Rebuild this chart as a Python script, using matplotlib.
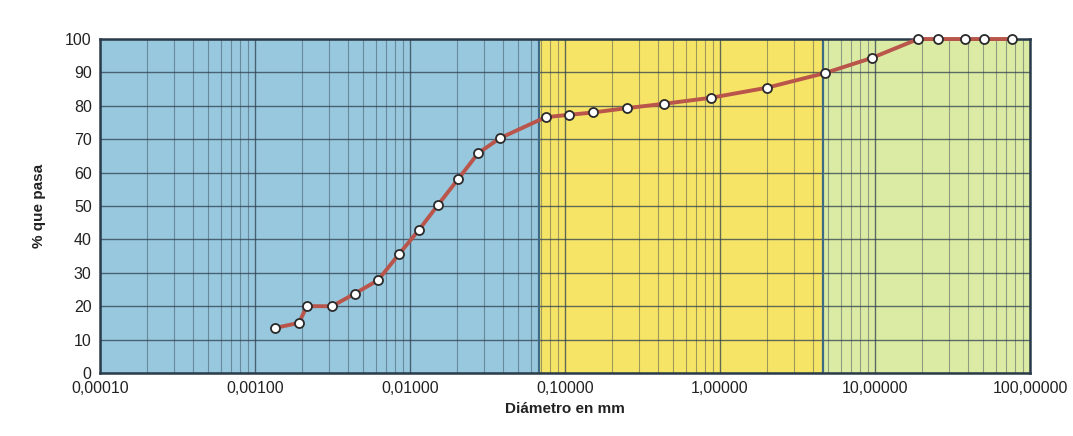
import matplotlib
matplotlib.use("Agg")
import matplotlib.pyplot as plt
from matplotlib.ticker import FixedLocator, LogLocator, NullFormatter, FuncFormatter
import numpy as np

# Data
diametro_mm = [0.00135, 0.00192, 0.00216, 0.00314, 0.00442, 0.00622, 0.0085, 0.0114,
               0.0152, 0.0204, 0.0275, 0.038, 0.075, 0.106, 0.152, 0.25, 0.435,
               0.875, 2.0, 4.75, 9.5, 19.0, 25.4, 38.1, 50.8, 76.2]
pct_pasa = [13.5, 15.0, 20.0, 20.0, 23.8, 27.8, 35.6, 42.8, 50.4, 58.0, 65.8, 70.3,
            76.6, 77.3, 78.0, 79.3, 80.6, 82.4, 85.4, 89.8, 94.3, 100.0, 100.0,
            100.0, 100.0, 100.0]
x_ticks = [0.0001, 0.001, 0.01, 0.1, 1.0, 10.0, 100.0]
x_tick_labels = ["0,00010", "0,00100", "0,01000", "0,10000", "1,00000", "10,00000", "100,00000"]
y_ticks = [0, 10, 20, 30, 40, 50, 60, 70, 80, 90, 100]
zone_limits = [0.0001, 0.068, 4.6, 100.0]
zone_colors = ["#98c8de", "#f6e466", "#dcebA4"]

plt.rcParams['font.family'] = ['Liberation Sans', 'DejaVu Sans']

fig = plt.figure(figsize=(10.73, 4.36), dpi=100)
ax = fig.add_axes([100/1073, 1-373/436, 930/1073, 334/436])

for i in range(3):
    ax.axvspan(zone_limits[i], zone_limits[i+1], color=zone_colors[i], zorder=0, lw=0)
for b in zone_limits[1:3]:
    ax.axvline(b, color="#3f6a86", lw=1.6, zorder=1)

ax.set_xscale('log')
ax.set_xlim(0.0001, 100.0)
ax.set_ylim(0, 100)

ax.xaxis.set_major_locator(FixedLocator(x_ticks))
ax.xaxis.set_major_formatter(FuncFormatter(lambda v, p: x_tick_labels[x_ticks.index(v)] if v in x_ticks else ""))
ax.xaxis.set_minor_locator(LogLocator(base=10, subs=np.arange(2, 10), numticks=100))
ax.xaxis.set_minor_formatter(NullFormatter())
ax.set_yticks(y_ticks)

ax.grid(True, which='major', axis='both', color='#2f3f4f', lw=1.0, alpha=0.75, zorder=1)
ax.grid(True, which='minor', axis='x', color='#2f3f4f', lw=0.8, alpha=0.45, zorder=1)
ax.set_axisbelow(True)

ax.plot(diametro_mm, pct_pasa, color='#b9554a', lw=2.8, zorder=3,
        marker='o', markersize=6.5, markerfacecolor='white',
        markeredgecolor='#2a2a2a', markeredgewidth=1.3, clip_on=False)

for s in ax.spines.values():
    s.set_color('#2a3b4a')
    s.set_linewidth(1.8)

ax.tick_params(axis='both', which='both', length=0, labelsize=11.5, pad=6, colors='#222222')
ax.set_xlabel("Diámetro en mm", fontsize=11, fontweight='bold', labelpad=4, color='#222222')
ax.set_ylabel("% que pasa", fontsize=11, fontweight='bold', labelpad=14, color='#222222')

fig.savefig("out.png", dpi=100)
